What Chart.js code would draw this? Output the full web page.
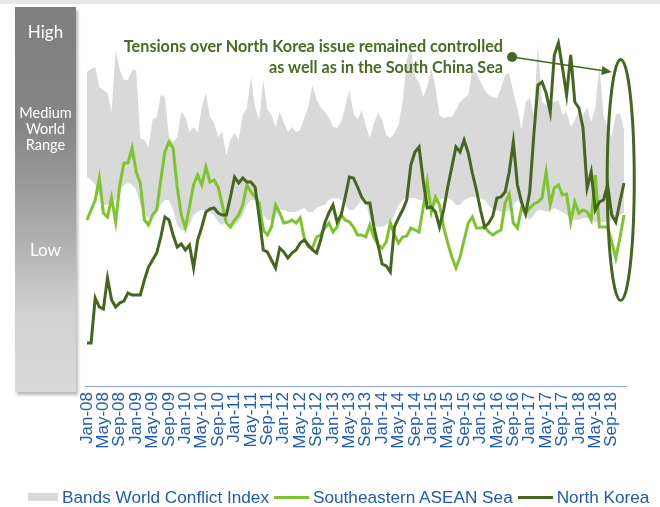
<!DOCTYPE html>
<html>
<head>
<meta charset="utf-8">
<script src="https://cdn.jsdelivr.net/npm/chart.js@4/dist/chart.umd.min.js"></script>
<style>
  html, body { margin: 0; padding: 0; background: #fff; }
  #wrap { position: relative; width: 660px; height: 507px; overflow: hidden; }
  #c { position: absolute; left: 0; top: 0; }
  #topstrip { position: absolute; left: 0; top: 0; width: 660px; height: 4px; background: #e7e7e7; }
  #range { position: absolute; left: 15px; top: 7px; width: 61px; height: 385px;
    background: linear-gradient(to bottom, #7f7f7f 0%, #858585 30%, #989898 45%, #b2b2b2 62%, #d2d2d2 80%, #d9d9d9 100%);
    box-shadow: 2px 3px 3px rgba(0,0,0,0.28); }
  .rl { position: absolute; left: 0; width: 61px; text-align: center; color: #fff; font-family: Lato, "Liberation Sans", sans-serif; }
  #note { position: absolute; right: 157px; top: 35px; text-align: right; color: #4b6b22;
    font-family: Lato, "Liberation Sans", sans-serif; font-weight: bold; font-size: 16.2px; line-height: 21px; white-space: nowrap; }
  #legend { position: absolute; left: 28px; top: 487px; height: 20px; display: flex; align-items: center;
    font-family: "Liberation Sans", Arial, sans-serif; font-size: 17.2px; color: #1f5ab4; white-space: nowrap; }
  .sw { display: inline-block; margin-right: 4px; }
</style>
</head>
<body>
<div id="wrap">
  <canvas id="c" width="660" height="507"></canvas>
  <div id="topstrip"></div>
  <div id="range">
    <div class="rl" style="top:14px;font-size:17px;">High</div>
    <div class="rl" style="top:98px;font-size:14.5px;line-height:16px;">Medium<br>World<br>Range</div>
    <div class="rl" style="top:232px;font-size:17px;">Low</div>
  </div>
  <div id="note">Tensions over North Korea issue remained controlled<br>as well as in the South China Sea</div>
  <div id="legend">
    <span class="sw" style="width:30px;height:8px;background:#d9d9d9;"></span><span>Bands World Conflict Index</span>
    <span class="sw" style="width:35px;height:3px;background:#7dc42e;margin-left:5px;"></span><span>Southeastern ASEAN Sea</span>
    <span class="sw" style="width:35px;height:3px;background:#45661e;margin-left:5px;"></span><span>North Korea</span>
  </div>
</div>
<script>
// ---- Data (index units, arbitrary scale) ----
const monthNames = ['Jan','Feb','Mar','Apr','May','Jun','Jul','Aug','Sep','Oct','Nov','Dec'];
const years = ['08','09','10','11','12','13','14','15','16','17','18'];
const months = [];
years.forEach(y => monthNames.forEach(m => months.push(m + '-' + y)));

const tickLabels = ['Jan-08','May-08','Sep-08','Jan-09','May-09','Sep-09','Jan-10','May-10','Sep-10',
  'Jan-11','May-11','Sep-11','Jan-12','May-12','Sep-12','Jan-13','May-13','Sep-13','Jan-14','May-14','Sep-14',
  'Jan-15','May-15','Sep-15','Jan-16','May-16','Sep-16','Jan-17','May-17','Sep-17','Jan-18','May-18','Sep-18'];

const northKorea = [43,43,88,79,77,108,86,79,83,85,93,91,91,91,106,119,126,133,149,169,166,151,139,142,136,141,118,146,159,174,
  177,178,173,171,171,189,209,203,208,204,204,199,169,136,134,126,118,138,134,128,133,136,143,146,141,136,133,146,163,173,
  181,164,171,189,209,208,199,189,183,183,159,141,122,120,114,159,168,176,186,221,234,239,206,178,179,174,159,176,199,219,
  239,234,246,233,213,196,176,159,163,170,188,189,194,214,244,201,184,172,194,251,301,304,293,274,331,343,318,291,331,284,
  278,258,198,214,176,184,186,201,171,164,184,203];

const aseanSea = [166,176,186,208,173,169,188,164,201,223,223,238,214,203,166,161,171,176,206,234,244,238,199,171,158,179,201,211,201,219,
  204,206,199,181,163,159,166,171,181,201,194,189,183,156,151,159,181,173,163,164,166,163,168,148,139,138,149,151,158,163,
  154,159,171,166,164,159,151,151,149,161,149,141,138,144,163,151,143,149,150,158,156,154,178,204,174,189,181,159,143,129,
  118,129,146,163,169,158,158,159,154,151,154,156,183,192,163,158,178,173,178,182,184,188,214,181,198,201,191,192,164,184,
  173,176,174,166,211,159,159,159,144,128,148,171];

const bandLow = [209,206,201,191,181,181,186,186,196,201,203,201,196,181,171,168,171,174,181,186,186,176,161,156,156,161,171,174,176,176,
  174,171,164,161,166,161,161,164,171,181,186,186,181,171,166,166,171,176,176,174,174,174,176,178,174,174,178,180,181,186,
  188,188,186,181,176,176,181,186,186,166,161,159,159,161,164,171,181,186,188,188,188,186,186,181,181,181,186,188,188,186,
  181,181,186,188,189,189,188,186,181,176,176,174,174,176,181,186,181,171,166,171,176,176,174,176,178,176,174,171,168,166,
  166,168,168,166,164,164,164,164,166,168,171,173];

const bandHigh = [314,317,319,299,296,293,274,336,316,306,306,316,316,248,246,239,266,269,291,289,249,244,249,274,269,254,259,253,279,293,
  269,263,249,254,231,246,253,246,271,278,309,279,266,306,276,271,259,274,264,254,259,254,256,268,279,301,286,279,274,269,
  259,258,264,279,296,273,266,276,261,248,263,273,266,251,248,253,261,284,326,338,309,304,289,299,318,299,271,268,269,269,
  276,284,288,291,316,313,304,296,291,289,288,298,311,313,294,278,256,284,288,271,341,284,281,284,284,286,271,274,259,266,
  274,271,279,264,278,321,271,258,249,271,273,256];

// Annotation anchors (category index, index value)
const noteDot = {i: 103.7, v: 329};
const noteArrowTip = {i: 128, v: 314};
const ellipse = {i: 130.2, v: 206, halfI: 3.3, halfV: 120.5};

const dark = '#45661e';
const light = '#7dc42e';

const annotationPlugin = {
  id: 'notes',
  afterDatasetsDraw(chart) {
    const ctx = chart.ctx, xs = chart.scales.x, ys = chart.scales.y;
    ctx.save();
    const cx = xs.getPixelForValue(ellipse.i), cy = ys.getPixelForValue(ellipse.v);
    const rx = xs.getPixelForValue(ellipse.i + ellipse.halfI) - cx;
    const ry = cy - ys.getPixelForValue(ellipse.v + ellipse.halfV);
    ctx.beginPath();
    ctx.ellipse(cx, cy, rx, ry, 0, 0, Math.PI * 2);
    ctx.lineWidth = 3; ctx.strokeStyle = dark; ctx.stroke();
    const x1 = xs.getPixelForValue(noteDot.i), y1 = ys.getPixelForValue(noteDot.v);
    const x2 = xs.getPixelForValue(noteArrowTip.i), y2 = ys.getPixelForValue(noteArrowTip.v);
    ctx.fillStyle = dark;
    ctx.beginPath(); ctx.arc(x1, y1, 5, 0, Math.PI * 2); ctx.fill();
    const ang = Math.atan2(y2 - y1, x2 - x1);
    const hl = 10, hw = 4.5;
    const bx = x2 - hl * Math.cos(ang), by = y2 - hl * Math.sin(ang);
    ctx.beginPath(); ctx.moveTo(x1, y1); ctx.lineTo(bx, by);
    ctx.lineWidth = 1.5; ctx.stroke();
    ctx.beginPath();
    ctx.moveTo(x2, y2);
    ctx.lineTo(bx + hw * Math.sin(ang), by - hw * Math.cos(ang));
    ctx.lineTo(bx - hw * Math.sin(ang), by + hw * Math.cos(ang));
    ctx.closePath(); ctx.fill();
    ctx.restore();
  }
};

// extend the axis line a few pixels past the plot edges, as in the reference
const axisLinePlugin = {
  id: 'axisLine',
  afterDraw(chart) {
    const ctx = chart.ctx, a = chart.chartArea;
    ctx.save();
    ctx.strokeStyle = '#8eaadb'; ctx.lineWidth = 1;
    ctx.beginPath(); ctx.moveTo(a.left - 2, a.bottom + 0.5); ctx.lineTo(a.right + 3, a.bottom + 0.5); ctx.stroke();
    ctx.restore();
  }
};

new Chart(document.getElementById('c'), {
  type: 'line',
  data: {
    labels: months,
    datasets: [
      { label: 'North Korea', data: northKorea, borderColor: dark, borderWidth: 3, pointRadius: 0, fill: false, tension: 0 },
      { label: 'Southeastern ASEAN Sea', data: aseanSea, borderColor: light, borderWidth: 3, pointRadius: 0, fill: false, tension: 0 },
      { label: 'band low', data: bandLow, borderWidth: 0, borderColor: 'rgba(0,0,0,0)', pointRadius: 0, fill: false },
      { label: 'Bands World Conflict Index', data: bandHigh, borderWidth: 0, borderColor: 'rgba(0,0,0,0)', backgroundColor: '#d9d9d9', pointRadius: 0, fill: '-1' }
    ]
  },
  options: {
    responsive: false,
    animation: false,
    devicePixelRatio: 1,
    layout: { padding: { left: 87, right: 36, top: 7, bottom: 0 } },
    plugins: { legend: { display: false }, tooltip: { enabled: false } },
    scales: {
      x: {
        type: 'category',
        offset: false,
        grid: { display: false, drawTicks: false },
        border: { display: false },
        ticks: {
          autoSkip: false, maxRotation: 90, minRotation: 90, padding: 6,
          color: '#1f5ab4',
          font: { family: '"Liberation Sans", Arial, sans-serif', size: 17 },
          callback: (v, i) => (i % 4 === 0 ? tickLabels[i / 4] : null)
        },
        afterFit: (s) => { s.height = 121; }
      },
      y: { display: false, min: 0, max: 379 }
    }
  },
  plugins: [annotationPlugin, axisLinePlugin]
});
</script>
</body>
</html>
